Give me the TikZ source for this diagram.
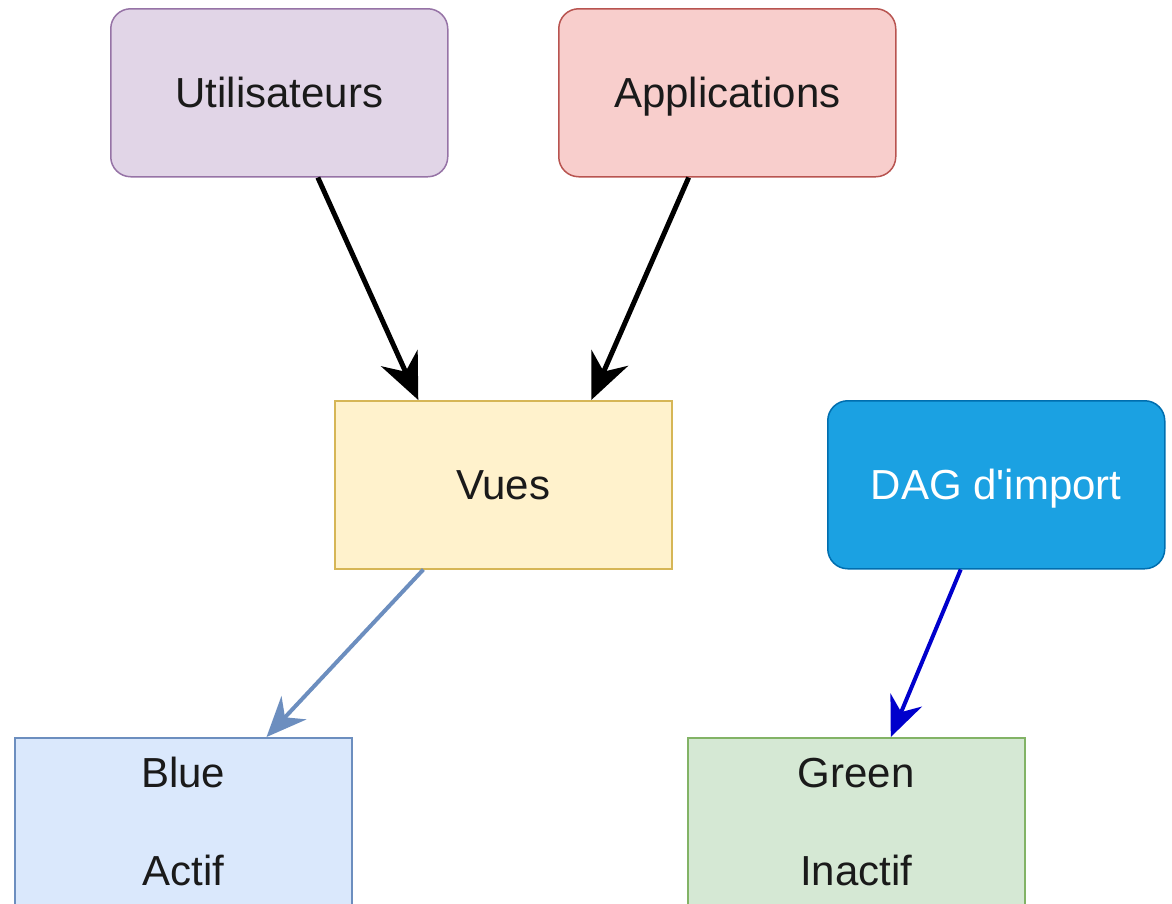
\documentclass[tikz,border=0pt]{standalone}
\usepackage{fontspec}
\setmainfont{Liberation Sans}[Ligatures=TeXOff]
\usetikzlibrary{arrows.meta,calc}

\definecolor{purplefill}{HTML}{E1D5E7}\definecolor{purpleline}{HTML}{9673A6}
\definecolor{redfill}{HTML}{F8CECC}\definecolor{redline}{HTML}{B85450}
\definecolor{yellowfill}{HTML}{FFF2CC}\definecolor{yellowline}{HTML}{D6B656}
\definecolor{bluefill}{HTML}{DAE8FC}\definecolor{blueline}{HTML}{6C8EBF}
\definecolor{greenfill}{HTML}{D5E8D4}\definecolor{greenline}{HTML}{82B366}
\definecolor{dagfill}{HTML}{1BA1E2}\definecolor{dagline}{HTML}{006EAF}
\definecolor{dagarrow}{HTML}{0000CC}
\definecolor{textdark}{HTML}{1A1A1A}

\tikzset{
  box/.style={draw, line width=1.5pt, anchor=north west, inner sep=0pt,
    minimum width=337pt, minimum height=168pt, align=center,
    font=\fontsize{42}{49}\selectfont, text=textdark},
  oneline/.style={text height=34pt, text depth=5pt},
  roundbox/.style={box, oneline, rounded corners=20pt},
  bigarrow/.style={line width=5pt, black,
    -{Stealth[length=46pt, width=40pt, inset=15pt]}},
  thinarrow/.style={line width=4pt,
    -{Stealth[length=40pt, width=34pt, inset=13pt]}},
}

\begin{document}
\begin{tikzpicture}[x=1pt, y=-1pt]
  \useasboundingbox (0,0) rectangle (1172,903);
  \clip (0,0) rectangle (1172,903);

  % sources
  \node[roundbox, fill=purplefill, draw=purpleline] (users) at (110,8) {Utilisateurs};
  \node[roundbox, fill=redfill, draw=redline] (apps) at (558,8) {Applications};

  % views layer
  \node[box, oneline, fill=yellowfill, draw=yellowline] (views) at (334,400) {Vues};

  % import job
  \node[roundbox, fill=dagfill, draw=dagline, text=white] (dag) at (827,400) {DAG d'import};

  % deployment slots
  \node[box, fill=bluefill, draw=blueline] (blue) at (14,737) {Blue\\[49pt]Actif};
  \node[box, fill=greenfill, draw=greenline] (green) at (687,737) {Green\\[49pt]Inactif};

  % connectors
  \draw[bigarrow] ($(users.south west)!0.614!(users.south east)$)
    -- ($(views.north west)!0.249!(views.north east)$);
  \draw[bigarrow] ($(apps.south west)!0.386!(apps.south east)$)
    -- ($(views.north west)!0.760!(views.north east)$);
  \draw[thinarrow, blueline] ($(views.south west)!0.264!(views.south east)$)
    -- ($(blue.north west)!0.746!(blue.north east)$);
  \draw[thinarrow, dagarrow] ($(dag.south west)!0.395!(dag.south east)$)
    -- ($(green.north west)!0.602!(green.north east)$);
\end{tikzpicture}
\end{document}
